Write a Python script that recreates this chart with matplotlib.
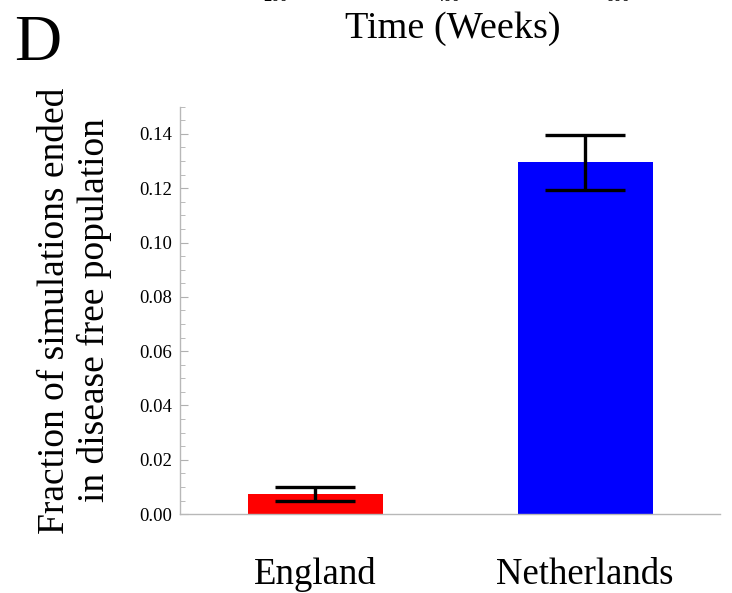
import numpy as np
import matplotlib
matplotlib.use("Agg")
import matplotlib.pyplot as plt
from matplotlib.ticker import MultipleLocator

# fraction of simulations ending disease-free, with error
countries = ["England", "Netherlands"]
fractions = [0.0075, 0.1295]
errors = [0.0025, 0.0100]
bar_colors = ["#ff0000", "#0000ff"]
y_ticks = [0.00, 0.02, 0.04, 0.06, 0.08, 0.10, 0.12, 0.14]
# leftover tick labels from the panel above
prev_ticks = ["200", "400", "600"]

plt.rcParams['font.family'] = ['Liberation Serif', 'DejaVu Serif']

fig = plt.figure(figsize=(7.32, 5.93), dpi=100)
ax = fig.add_axes([0.246, 0.133, 0.738, 0.687])

x = np.arange(len(countries))
ax.bar(x, fractions, width=0.5, color=bar_colors, zorder=2)
ax.errorbar(x, fractions, yerr=errors, fmt='none', ecolor='black',
            elinewidth=2.4, capsize=29, capthick=2.4, zorder=3)

ax.set_xlim(-0.5, 1.5)
ax.set_ylim(0, 0.15)
ax.set_yticks(y_ticks)
ax.set_yticklabels([f"{v:.2f}" for v in y_ticks])
ax.yaxis.set_minor_locator(MultipleLocator(0.005))
ax.tick_params(axis='y', which='major', direction='in', length=6, width=0.8,
               color='#b0b0b0', labelsize=13.5, pad=6)
ax.tick_params(axis='y', which='minor', direction='in', length=3.5, width=0.6,
               color='#b0b0b0')
ax.set_xticks(x)
ax.set_xticklabels(countries, fontsize=26.5)
ax.tick_params(axis='x', length=0, pad=31)

for sp in ("top", "right"):
    ax.spines[sp].set_visible(False)
for sp in ("left", "bottom"):
    ax.spines[sp].set_color('#b8b8b8')
    ax.spines[sp].set_linewidth(1.0)

ax.set_ylabel("Fraction of simulations ended\nin disease free population",
              fontsize=27, linespacing=1.2, labelpad=19)

fig.text(0.019, 0.925, "D", fontsize=47, ha='left', va='center')
fig.text(0.618, 0.952, "Time (Weeks)", fontsize=27.5, ha='center', va='center')
for lbl, xp in zip(prev_ticks, [0.376, 0.612, 0.844]):
    fig.text(xp, 1.005, lbl, fontsize=12, ha='center', va='center')

fig.savefig("out.png", dpi=100)
